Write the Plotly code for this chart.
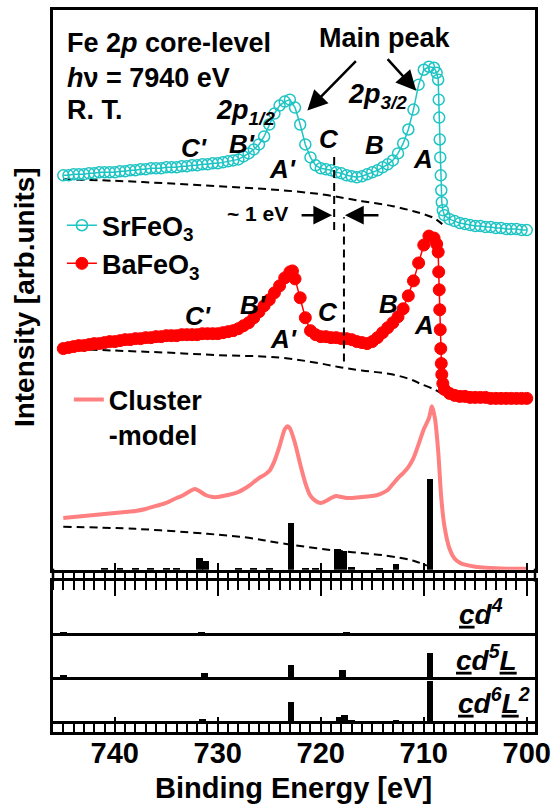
import plotly.graph_objects as go

# ---------------- data (binding energy in eV, intensity in arb. units) ----------------
E_sr = [745, 744.5, 744, 743.5, 743, 742.5, 742, 741.5, 741, 740.5, 740, 739.5, 739, 738.5, 738,
        737.5, 737, 736.5, 736, 735.5, 735, 734.5, 734, 733.5, 733, 732.5, 732, 731.5, 731, 730.5,
        730, 729.5, 729, 728.5, 728, 727.5, 727, 726.5, 726, 725.5, 725, 724.5, 724, 723.5, 723,
        722.5, 722, 721.5, 721, 720.5, 720, 719.5, 719, 718.5, 718, 717.5, 717, 716.5, 716, 715.5,
        715, 714.5, 714, 713.5, 713, 712.5, 712, 711.5, 711, 710.5, 710, 709.5, 709, 708.75, 708.6,
        708.55, 708.5, 708.45, 708.4, 708.35, 708.3, 708.25, 708.15, 708, 707.5, 707, 706.5, 706,
        705.5, 705, 704.5, 704, 703.5, 703, 702.5, 702, 701.5, 701, 700.5, 700]
I_sr = [396, 396, 397, 397, 397, 398, 398, 399, 399, 399, 399, 400, 400, 401, 401,
        402, 402, 403, 403, 403, 404, 404, 404, 405, 405, 406, 406, 407, 407, 408,
        408, 409, 410, 411, 412, 415, 418, 422, 427, 435, 447, 458, 466, 470, 472,
        464, 447, 427, 414, 406, 403, 402, 401, 399, 398, 396, 395, 394, 395, 397,
        399, 401, 404, 407, 411, 418, 428, 442, 462, 487, 502, 505, 504, 499, 492,
        472, 454, 432, 414, 396, 381, 369, 361, 356, 352, 350, 348, 347,
        346, 345, 345, 344, 344, 343, 343, 342, 342, 342, 341, 341]

E_ba = [745, 744.5, 744, 743.5, 743, 742.5, 742, 741.5, 741, 740.5, 740, 739.5, 739, 738.5, 738,
        737.5, 737, 736.5, 736, 735.5, 735, 734.5, 734, 733.5, 733, 732.5, 732, 731.5, 731, 730.5,
        730, 729.5, 729, 728.5, 728, 727.5, 727, 726.5, 726, 725.5, 725, 724.5, 724, 723.5, 723,
        722.75, 722.5, 722, 721.5, 721, 720.5, 720, 719.5, 719, 718.5, 718, 717.5, 717, 716.5, 716,
        715.5, 715, 714.5, 714, 713.5, 713, 712.5, 712, 711.5, 711, 710.5, 710, 709.5, 709, 708.75,
        708.6, 708.55, 708.5, 708.45, 708.4, 708.35, 708.3, 708.25, 708.15, 708, 707.5, 707, 706.5,
        706, 705.5, 705, 704.5, 704, 703.5, 703, 702.5, 702, 701.5, 701, 700.5, 700]
I_ba = [222, 223, 224, 225, 225, 226, 227, 227, 228, 229, 229, 230, 231, 231, 232,
        232, 233, 233, 234, 234, 235, 235, 235, 236, 236, 236, 236, 237, 237, 237,
        237, 238, 239, 240, 242, 245, 248, 253, 259, 265, 271, 278, 285, 293, 299,
        300, 292, 273, 253, 240, 236, 234, 234, 233, 233, 232, 232, 231, 229, 228,
        227, 229, 233, 238, 243, 248, 254, 262, 275, 290, 308, 326, 335, 333, 327,
        319, 299, 281, 261, 241, 222, 207, 196, 187, 181, 177, 175, 174,
        174, 173, 173, 173, 173, 172, 172, 172, 172, 172, 172, 172, 172]

E_cl = [745, 744, 743, 742, 741, 740, 739, 738, 737, 736, 735, 734, 733.5, 733, 732.5, 732.2,
        731.8, 731.2, 730.5, 730, 729.5, 729, 728, 727, 726.5, 726, 725.5, 725, 724.5, 724, 723.5,
        723.2, 723, 722.5, 722, 721.5, 721, 720.5, 720, 719.5, 719, 718.5, 718, 717.5, 717, 716,
        715, 714.5, 714, 713.5, 713, 712.5, 712, 711.5, 711, 710.5, 710, 709.5, 709.2, 708.9,
        708.6, 708.3, 708, 707.5, 707, 706.5, 706, 705, 704, 702, 700]
I_cl = [52, 53, 54, 55, 56, 57, 58, 59, 61, 64, 67, 72, 74, 77, 80, 81,
        79, 75, 73, 73, 74, 75, 78, 84, 88, 92, 95, 99, 109, 124, 141,
        144, 142, 127, 106, 87, 74, 69, 67, 69, 72, 74, 73, 72, 72, 73,
        74, 75, 77, 80, 86, 92, 97, 103, 112, 126, 141, 152, 164, 151,
        119, 72, 44, 21, 11, 7, 5, 3, 2, 1, 1]

E_bg_sr = [745, 740, 735, 730, 725, 720, 716, 713, 711, 710, 709, 708.2]
I_bg_sr = [392, 390.5, 388, 385, 382, 377, 370, 365, 360, 357, 353, 347]
E_bg_ba = [745, 740, 735, 730, 724, 720, 718, 716, 713, 711, 710.4, 709, 708.1]
I_bg_ba = [222, 220, 218, 215.5, 213, 207, 203, 200, 196, 190, 187, 181, 176]
E_bg_cl = [745, 738, 731, 727, 723.5, 718.4, 713.6, 711, 709.7]
I_bg_cl = [43, 41, 36, 32, 26, 19, 14, 9, 4]

# cluster-model stick spectra (total and per configuration)
E_stick = [709.4, 722.9, 718.35, 717.75, 731.8, 731.2, 712.7, 741, 739.5, 738, 736.5, 735, 734,
           728, 726.5, 725, 721.5, 720.5, 717, 714.3]
W_stick = [91, 47, 21, 19, 12, 9, 6, 2, 2, 2, 2, 2, 2, 2, 2, 2, 2, 2, 3, 2]
E_cd4 = [745, 731.6, 717.5]
W_cd4 = [1.5, 1.5, 1.5]
E_cd5 = [709.4, 722.9, 717.9, 731.3, 745]
W_cd5 = [24, 12, 7, 3.5, 1.5]
E_cd6 = [709.4, 722.9, 718.2, 717.7, 717.0, 731.5, 712.7, 726.5, 735]
W_cd6 = [42, 21, 6, 7.5, 2.5, 3.5, 2.5, 1, 1]

E_C = [718.7, 717.75]          # feature C of SrFeO3, BaFeO3
C_span_sr = [341, 419]
C_span_ba = [209, 354]

x_ticks = [740, 730, 720, 710, 700]
x_ticktext = ["740", "730", "720", "710", "700"]

# ---------------- style / layout ----------------
F = "Liberation Sans, Arial, sans-serif"
CYAN = "#1FC4C4"
RED = "#FF0000"
PINK = "#FF8080"
XR = [746, 699.2]
L, R, T, B = 53, 540, 7, 732


def P(x, y):
    return (x - L) / (R - L), (B - y) / (B - T)


def dom(top_px, bot_px):
    return [P(0, bot_px)[1], P(0, top_px)[1]]


fig = go.Figure()

dash = "8px,5px"
# top panel
fig.add_trace(go.Bar(x=E_stick, y=W_stick, width=0.65, marker=dict(color="black", line=dict(width=0)),
                     showlegend=False, xaxis="x", yaxis="y"))
for ex, iy in [(E_bg_sr, I_bg_sr), (E_bg_ba, I_bg_ba), (E_bg_cl, I_bg_cl)]:
    fig.add_trace(go.Scatter(x=ex, y=iy, mode="lines", line=dict(color="black", width=2, dash=dash, shape="spline"),
                             showlegend=False, xaxis="x", yaxis="y"))
fig.add_trace(go.Scatter(x=E_cl, y=I_cl, mode="lines", name="<b>Cluster<br>-model</b>",
                         line=dict(color=PINK, width=4, shape="spline", smoothing=0.6),
                         legend="legend2", xaxis="x", yaxis="y"))
fig.add_trace(go.Scatter(x=E_ba, y=I_ba, mode="lines+markers", name="<b>BaFeO<sub>3</sub></b>",
                         line=dict(color=RED, width=1.5),
                         marker=dict(symbol="circle", size=12, color=RED, line=dict(color=RED, width=1)),
                         legend="legend", xaxis="x", yaxis="y"))
fig.add_trace(go.Scatter(x=E_sr, y=I_sr, mode="lines+markers", name="<b>SrFeO<sub>3</sub></b>",
                         line=dict(color=CYAN, width=1.5),
                         marker=dict(symbol="circle-open", size=11, color=CYAN, line=dict(color=CYAN, width=1.5)),
                         legend="legend", xaxis="x", yaxis="y"))
# configuration panels
fig.add_trace(go.Bar(x=E_cd4, y=W_cd4, width=0.65, marker=dict(color="black", line=dict(width=0)),
                     showlegend=False, xaxis="x2", yaxis="y2"))
fig.add_trace(go.Bar(x=E_cd5, y=W_cd5, width=0.65, marker=dict(color="black", line=dict(width=0)),
                     showlegend=False, xaxis="x3", yaxis="y3"))
fig.add_trace(go.Bar(x=E_cd6, y=W_cd6, width=0.65, marker=dict(color="black", line=dict(width=0)),
                     showlegend=False, xaxis="x4", yaxis="y4"))

ax_common = dict(range=XR, autorange=False, showline=True, linewidth=2.5, linecolor="black",
                 showgrid=False, zeroline=False, tickmode="array", tickvals=x_ticks, ticktext=x_ticktext,
                 tickcolor="black", tickwidth=2)
ay_common = dict(showline=True, linewidth=2.5, linecolor="black", mirror=True, showgrid=False,
                 ticks="", showticklabels=False, zeroline=False)

minor_out = lambda ln: dict(tickmode="linear", tick0=700, dtick=1, ticks="outside", ticklen=ln, tickwidth=1.5,
                            tickcolor="black")

fig.update_layout(
    width=558, height=808, margin=dict(l=L, r=558 - R, t=T, b=808 - B),
    paper_bgcolor="white", plot_bgcolor="white", barmode="overlay", bargap=0,
    font=dict(family=F, color="black"),
    xaxis=dict(**ax_common, anchor="y", mirror=True, ticks="outside", ticklen=24, showticklabels=False,
               minor=minor_out(18)),
    yaxis=dict(**ay_common, domain=dom(T, 569), range=[0, 562]),
    xaxis2=dict(**ax_common, anchor="y2", side="top", mirror=True, ticks="outside", ticklen=15,
                showticklabels=False, minor=minor_out(8)),
    yaxis2=dict(**ay_common, domain=dom(580, 633), range=[0, 53]),
    xaxis3=dict(**ax_common, anchor="y3", mirror=False, ticks="", showticklabels=False),
    yaxis3=dict(**ay_common, domain=dom(633, 677), range=[0, 44]),
    xaxis4=dict(**ax_common, anchor="y4", mirror=False, ticks="inside", ticklen=15, showticklabels=True,
                ticklabelstandoff=-7,
                tickfont=dict(size=29, family=F, color="black", weight="bold"),
                minor=dict(tickmode="linear", tick0=700, dtick=1, ticks="inside", ticklen=10, tickwidth=1.5,
                           tickcolor="black")),
    yaxis4=dict(showline=True, linewidth=2.5, linecolor="black", mirror=True, showgrid=False, ticks="",
                showticklabels=False, domain=dom(677, B), range=[-9.3, 45.7], zeroline=True,
                zerolinecolor="black", zerolinewidth=2.5),
    legend=dict(x=P(62, 0)[0], y=P(0, 199)[1], xanchor="left", yanchor="top", bgcolor="rgba(0,0,0,0)",
                font=dict(size=27, family=F, color="black"), itemwidth=30, tracegroupgap=0,
                traceorder="reversed"),
    legend2=dict(x=P(69, 0)[0], y=P(0, 374)[1], xanchor="left", yanchor="top", bgcolor="rgba(0,0,0,0)",
                 font=dict(size=27, family=F, color="black"), itemwidth=30, valign="top"),
)

shapes = []
for ex, (y0, y1) in zip(E_C, [C_span_sr, C_span_ba]):
    shapes.append(dict(type="line", xref="x", yref="y", x0=ex, x1=ex, y0=y0, y1=y1,
                       line=dict(color="black", width=2, dash=dash)))
for xp in [0, 1]:
    shapes.append(dict(type="line", xref="paper", yref="paper", x0=xp, x1=xp, y0=P(0, 581)[1], y1=P(0, 568)[1],
                       line=dict(color="black", width=2.5)))
fig.update_layout(shapes=shapes)


def ann(text, x, y, size=26, xanchor="center", yanchor="middle", **kw):
    px_, py_ = P(x, y)
    return dict(text=text, x=px_, y=py_, xref="paper", yref="paper", xanchor=xanchor, yanchor=yanchor,
                showarrow=False, font=dict(size=size, family=F, color="black"), **kw)


def arrow(xh, yh, xt, yt, size=1.6):
    hx, hy = P(xh, yh)
    return dict(x=hx, y=hy, xref="paper", yref="paper", ax=xt - xh, ay=yt - yh, showarrow=True,
                arrowhead=2, arrowsize=size, arrowwidth=2.5, arrowcolor="black", text="")


anns = [
    ann("<b>Fe 2<i>p</i> core-level</b>", 65, 40, size=27, xanchor="left"),
    ann("<b><i>h</i>ν = 7940 eV</b>", 65, 75, size=27, xanchor="left"),
    ann("<b>R. T.</b>", 65, 107, size=27, xanchor="left"),
    ann("<b>Main peak</b>", 388, 35, size=27),
    ann("<b><i>2p<sub>1/2</sub></i></b>", 247, 109, size=27),
    ann("<b><i>2p<sub>3/2</sub></i></b>", 381, 93, size=27),
    arrow(310, 108, 360, 57),
    arrow(420, 88, 390, 55),
    # SrFeO3 features
    ann("<b><i>C'</i></b>", 195, 146), ann("<b><i>B'</i></b>", 244, 142), ann("<b><i>A'</i></b>", 285, 167),
    ann("<b><i>C</i></b>", 332, 137), ann("<b><i>B</i></b>", 378, 143), ann("<b><i>A</i></b>", 427, 157),
    # BaFeO3 features
    ann("<b><i>C'</i></b>", 199, 314), ann("<b><i>B'</i></b>", 255, 303), ann("<b><i>A'</i></b>", 286, 337),
    ann("<b><i>C</i></b>", 331, 310), ann("<b><i>B</i></b>", 392, 302), ann("<b><i>A</i></b>", 428, 323),
    ann("<b>~ 1 eV</b>", 260, 211, size=21),
    arrow(335, 213, 303, 213, size=1.5),
    arrow(348, 213, 383, 213, size=1.5),
    # configuration labels
    ann("<b><i><u>c</u>d<sup>4</sup></i></b>", 510, 612, size=28, xanchor="right"),
    ann("<b><i><u>c</u>d<sup>5</sup><u>L</u></i></b>", 524, 658, size=28, xanchor="right"),
    ann("<b><i><u>c</u>d<sup>6</sup><u>L</u><sup>2</sup></i></b>", 537, 701, size=28, xanchor="right"),
    # axis titles
    ann("<b>Binding Energy [eV]</b>", 296, 788, size=29),
    ann("<b>Intensity [arb.units]</b>", 25, 295, size=28, textangle=-90),
]
fig.update_layout(annotations=anns)

fig.write_html("out.html")
